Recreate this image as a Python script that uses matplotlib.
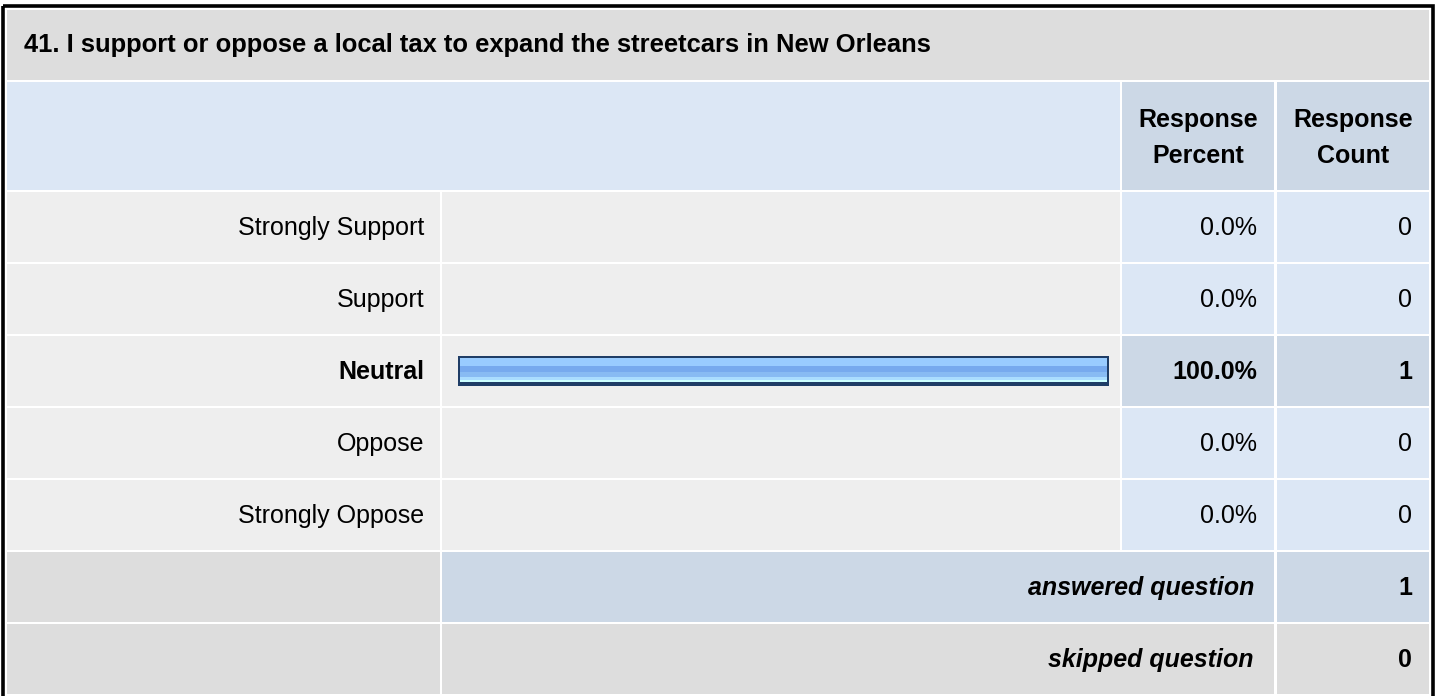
import matplotlib
matplotlib.use("Agg")
import matplotlib.pyplot as plt
from matplotlib.patches import Rectangle

# ---- data ----
title = "41. I support or oppose a local tax to expand the streetcars in New Orleans"
categories = ["Strongly Support", "Support", "Neutral", "Oppose", "Strongly Oppose"]
percents = [0.0, 0.0, 100.0, 0.0, 0.0]
counts = [0, 0, 1, 0, 0]
header_percent = "Response\nPercent"
header_count = "Response\nCount"
answered_label = "answered question"
skipped_label = "skipped question"
answered = 1
skipped = 0

# ---- style ----
W, H = 1438, 696
FONT = ["Liberation Sans", "DejaVu Sans"]
FS = 18
GRAY = "#dddddd"
ROWGRAY = "#eeeeee"
LBLUE = "#dce7f5"
MBLUE = "#ccd8e6"

fig = plt.figure(figsize=(W / 100, H / 100), dpi=100)
ax = fig.add_axes([0, 0, 1, 1])
ax.set_xlim(0, W)
ax.set_ylim(H, 0)
ax.axis("off")


def cell(x0, x1, y0, y1, color):
    ax.add_patch(Rectangle((x0, y0), x1 - x0, y1 - y0, facecolor=color,
                           edgecolor="none", zorder=1))


def txt(x, y, s, ha="right", weight="normal", style="normal", size=FS):
    ax.text(x, y, s, ha=ha, va="center", fontsize=size, family=FONT,
            fontweight=weight, fontstyle=style, color="#000000", zorder=5)


# column edges
cL0, cL1 = 7, 440
cB0, cB1 = 442, 1120
cP0, cP1 = 1122, 1274
cC0, cC1 = 1277, 1429

# title row
cell(cL0, cC1, 10, 80, GRAY)
txt(24, 45, title, ha="left", weight="bold", size=18.4)

# header row
cell(cL0, cB1, 82, 190, LBLUE)
cell(cP0, cP1, 82, 190, MBLUE)
cell(cC0, cC1, 82, 190, MBLUE)
ax.text((cP0 + cP1) / 2, 138, header_percent, ha="center", va="center",
        fontsize=FS, family=FONT, fontweight="bold", linespacing=1.63, zorder=5)
ax.text((cC0 + cC1) / 2, 138, header_count, ha="center", va="center",
        fontsize=FS, family=FONT, fontweight="bold", linespacing=1.63, zorder=5)

# data rows
row_top0 = 192
pitch = 72
row_h = 70
top = max(counts)
for i, (cat, p, c) in enumerate(zip(categories, percents, counts)):
    y0 = row_top0 + i * pitch
    y1 = y0 + row_h
    yc = (y0 + y1) / 2 + 1
    hl = (c == top and top > 0)
    cell(cL0, cL1, y0, y1, ROWGRAY)
    cell(cB0, cB1, y0, y1, ROWGRAY)
    cell(cP0, cP1, y0, y1, MBLUE if hl else LBLUE)
    cell(cC0, cC1, y0, y1, MBLUE if hl else LBLUE)
    w = "bold" if hl else "normal"
    txt(cL1 - 16, yc, cat, weight=w)
    txt(cP1 - 17, yc, f"{p:.1f}%", weight=w)
    txt(cC1 - 17, yc, f"{c}", weight=w)

# answered / skipped rows
ya0 = row_top0 + 5 * pitch
cell(cL0, cL1, ya0, ya0 + row_h, GRAY)
cell(cB0, cP1, ya0, ya0 + row_h, MBLUE)
cell(cC0, cC1, ya0, ya0 + row_h, MBLUE)
txt(cP1 - 20, ya0 + row_h / 2 + 1, answered_label, weight="bold", style="italic")
txt(cC1 - 17, ya0 + row_h / 2 + 1, f"{answered}", weight="bold")

ys0 = ya0 + pitch
cell(cL0, cL1, ys0, ys0 + row_h, GRAY)
cell(cB0, cP1, ys0, ys0 + row_h, GRAY)
cell(cC0, cC1, ys0, ys0 + row_h, GRAY)
txt(cP1 - 20, ys0 + row_h / 2 + 1, skipped_label, weight="bold", style="italic")
txt(cC1 - 17, ys0 + row_h / 2 + 1, f"{skipped}", weight="bold")

# outer border
ax.add_patch(Rectangle((2.5, 6), 1430.5, 692, facecolor="none",
                       edgecolor="#000000", linewidth=2.6, zorder=6))

# ---- bar axes (percent scale) ----
bx0, bx1 = 458, 1109
by0, by1 = 191, 551
bax = fig.add_axes([bx0 / W, 1 - by1 / H, (bx1 - bx0) / W, (by1 - by0) / H])
bax.set_xlim(0, 100)
bax.set_ylim(len(categories) - 0.5, -0.5)
bax.axis("off")
bax.patch.set_alpha(0)

ypos = list(range(len(categories)))
px = 1 / 72.0
bar_h = 30 * px
bax.barh(ypos, percents, height=bar_h, color="#1f3d66", left=0, zorder=2)
# gradient stripes: (offset of top from bar top in px, height px, colour)
stripes = [
    (2.3, 8.0, "#99ccff"),
    (10.3, 6.0, "#77aaee"),
    (16.3, 5.0, "#88bbf3"),
    (21.3, 2.4, "#aaddff"),
    (23.7, 2.6, "#ccffff"),
]
border_x = 100 * 2.2 / (bx1 - bx0)
for off, h, col in stripes:
    ys = [y + (-15 + off + h / 2) * px for y in ypos]
    inner = [max(p - 2 * border_x, 0) if p > 0 else 0 for p in percents]
    bax.barh(ys, inner, height=h * px, left=border_x, color=col, zorder=3)

fig.savefig("out.png", dpi=100)
